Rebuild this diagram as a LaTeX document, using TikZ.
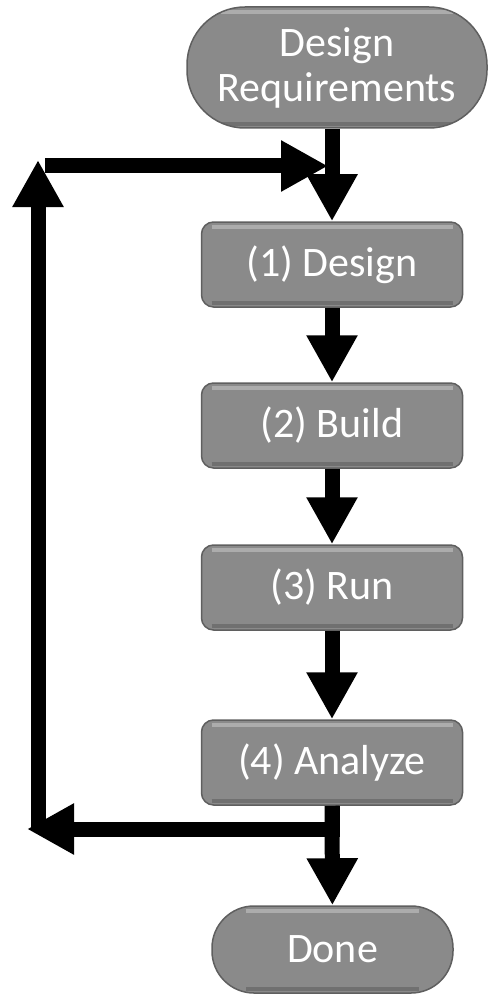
\documentclass[tikz,border=0pt]{standalone}
\usepackage{fontspec}
\setmainfont{Carlito}
\usepackage{tikz}
\usetikzlibrary{arrows.meta,calc}
\definecolor{boxcolor}{RGB}{138,138,138}
\definecolor{boxrim}{RGB}{95,95,95}
\definecolor{boxshine}{RGB}{172,172,172}
\definecolor{boxshade}{RGB}{112,112,112}

\begin{document}
\begin{tikzpicture}[x=1pt, y=-1pt,
        bevel/.style={
          fill=boxcolor, draw=boxrim, line width=1.5pt, text=white, inner sep=0pt,
          font=\fontsize{42}{45}\selectfont, align=center,
          path picture={
            \draw[boxshine, line width=4pt]
              ([xshift=#1, yshift=-5pt]path picture bounding box.north west) --
              ([xshift=-#1, yshift=-5pt]path picture bounding box.north east);
            \draw[boxshade, line width=4pt]
              ([xshift=#1, yshift=4pt]path picture bounding box.south west) --
              ([xshift=-#1, yshift=4pt]path picture bounding box.south east);
          }},
        stepbox/.style={bevel=10pt, rounded corners=12pt, minimum width=261pt, minimum height=85pt},
        endbox/.style={bevel=34pt, rounded corners=42pt, minimum height=86pt},
        flow/.style={line width=15pt, -{Triangle[width=48pt, length=47pt]}}
    ]
        \useasboundingbox (0,0) rectangle (488,995);

        % draw start and end
        \node[endbox, rounded corners=58pt, minimum width=300pt, minimum height=121pt] (req) at (337,67.5) {Design\\Requirements};
        \node[endbox, minimum width=241pt, minimum height=87pt] (done) at (332.5,949.5) {Done};

        % draw the four steps
        \node[stepbox] (design) at (332,264.5) {(1) Design};
        \node[stepbox] (build) at (332,425.5) {(2) Build};
        \node[stepbox] (run) at (332,587.5) {(3) Run};
        \node[stepbox] (analyze) at (332,762.5) {(4) Analyze};

        % draw the forward arrows
        \draw[flow] (req.south -| design.north) -- (design.north);
        \foreach \a/\b in {design/build, build/run, run/analyze}
            \draw[flow] (\a) -- (\b);
        \draw[flow] (analyze) -- (done);

        % draw the loop back
        \coordinate (loopbot) at (27,829);
        \coordinate (loopleft) at (38,829);
        \coordinate (looptop) at (38,160);
        \coordinate (loopstart) at (45,166);
        \coordinate (loopend) at (328,166);
        \draw[flow] (analyze.south) |- (loopbot);
        \draw[flow] (loopleft) -- (looptop);
        \draw[flow] (loopstart) -- (loopend);
    \end{tikzpicture}
\end{document}
